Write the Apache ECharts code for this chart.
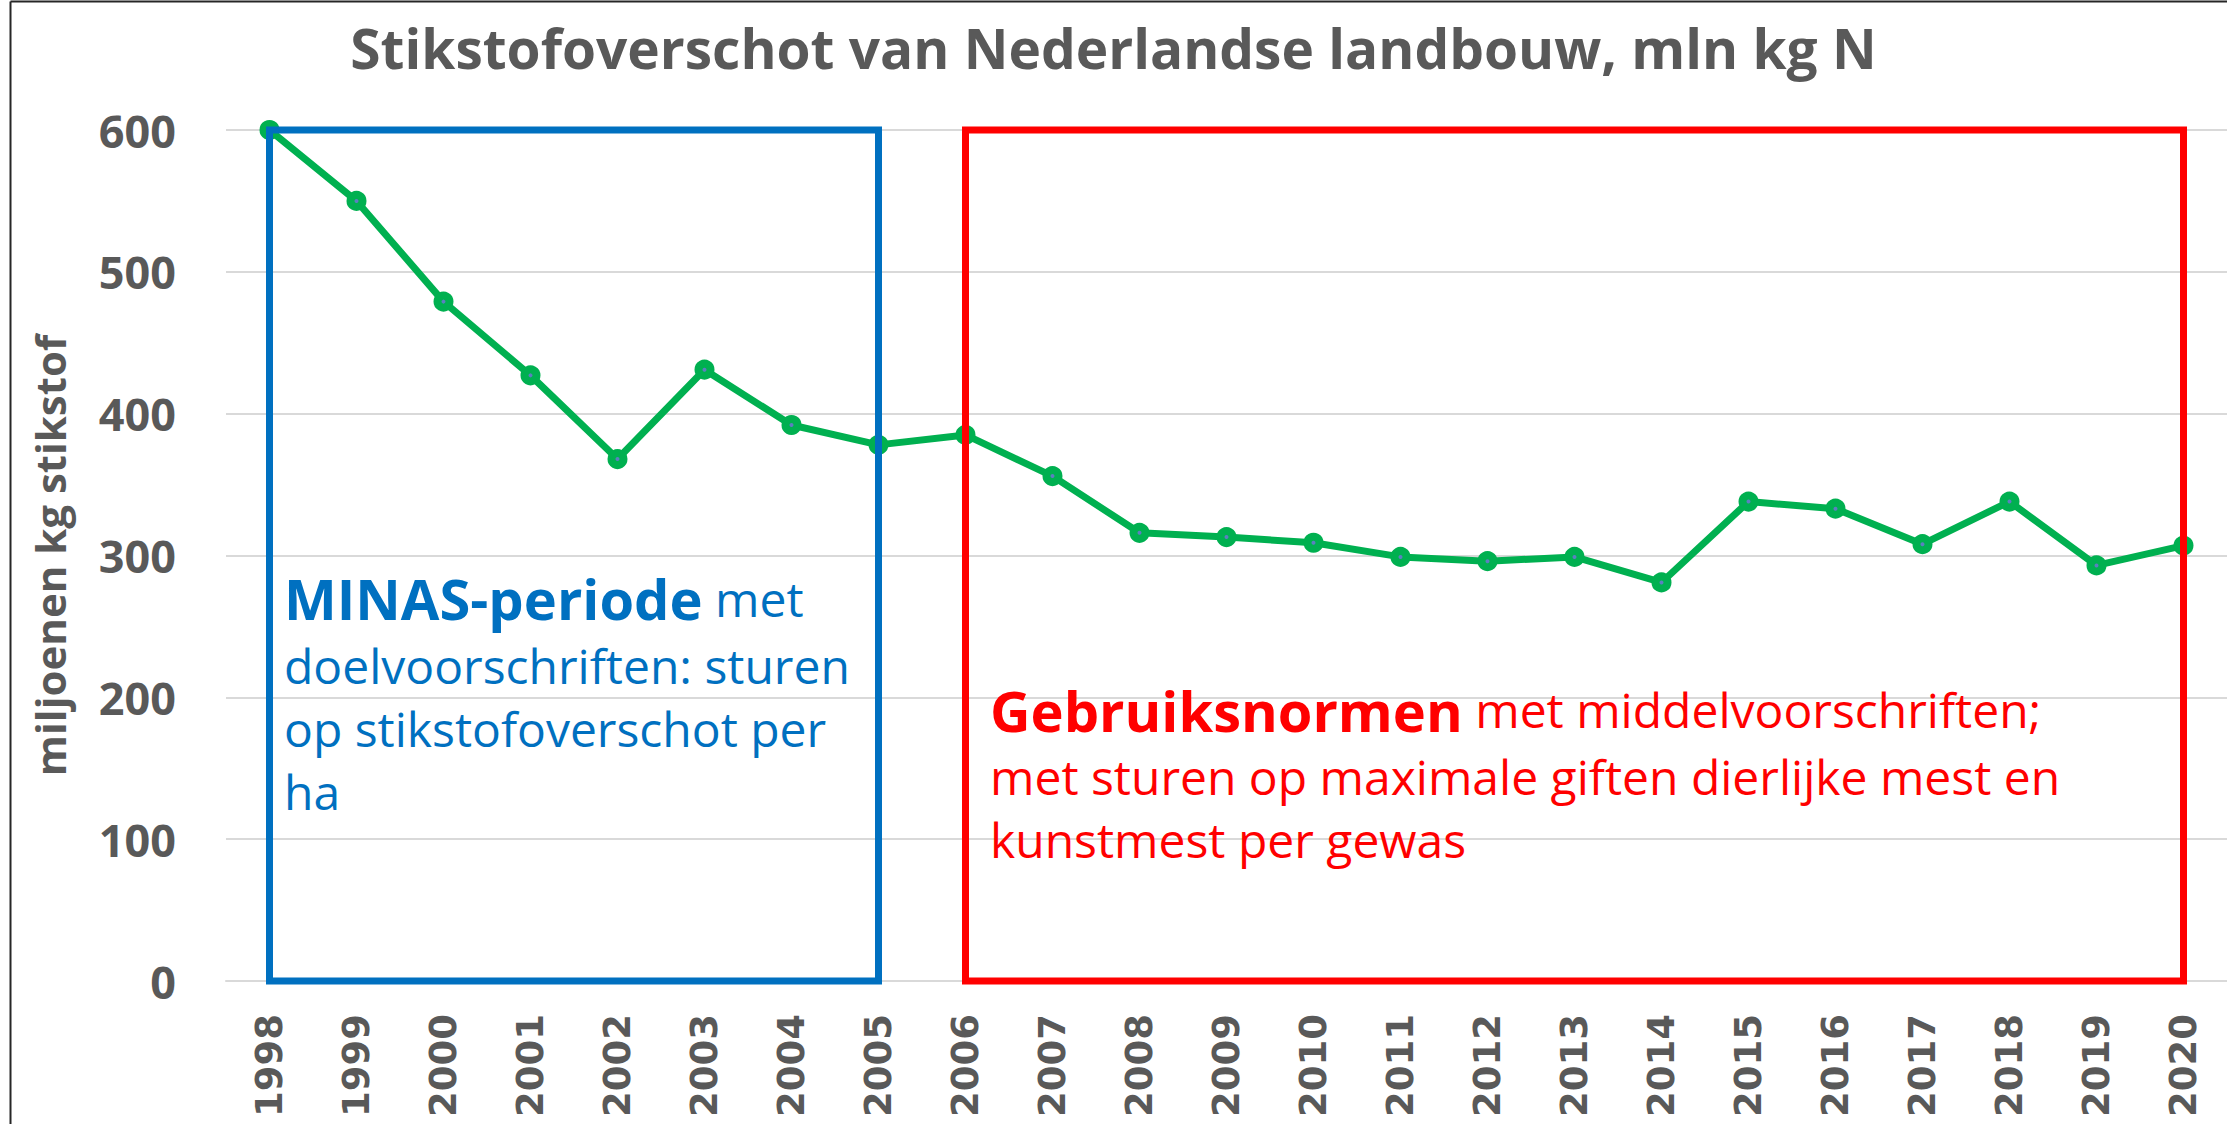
<!DOCTYPE html>
<html>
<head>
<meta charset="utf-8">
<script src="https://cdn.jsdelivr.net/npm/echarts@6/dist/echarts.min.js"></script>
<style>
html,body{margin:0;padding:0;background:#ffffff;}
#chart{width:2227px;height:1124px;}
</style>
</head>
<body>
<div id="chart"></div>
<script>
// ---- data ----
const years = ['1998','1999','2000','2001','2002','2003','2004','2005','2006','2007','2008',
               '2009','2010','2011','2012','2013','2014','2015','2016','2017','2018','2019','2020'];
const surplus = [600, 550, 479, 427, 368, 431, 392, 378, 385, 356, 316,
                 313, 309, 299, 296, 299, 281, 338, 333, 308, 338, 293, 307];
const yTickValues = [0, 100, 200, 300, 400, 500, 600];
const chartTitle = 'Stikstofoverschot van Nederlandse landbouw, mln kg N';
const yAxisTitle = 'miljoenen kg stikstof';
const minasPeriod = ['1998', '2005'];
const normsPeriod = ['2006', '2020'];
const minasBold = 'MINAS-periode';
const minasLines = ['met', 'doelvoorschriften: sturen', 'op stikstofoverschot per', 'ha'];
const normsBold = 'Gebruiksnormen';
const normsLines = ['met middelvoorschriften;', 'met sturen op maximale giften dierlijke mest en', 'kunstmest per gewas'];

// ---- chart ----
const chart = echarts.init(document.getElementById('chart'), null, {renderer: 'svg'});
const yMin = yTickValues[0], yMax = yTickValues[yTickValues.length - 1];
const yStep = yTickValues[1] - yTickValues[0];
const grey = '#595959';
const calibriLike = '"Open Sans", "Noto Sans", sans-serif';

function richBlock(bold, lines, colorHex, firstLineHeight) {
  return {
    text: '{b|' + bold + '}{r1| ' + lines[0] + '}\n' + lines.slice(1).map(l => '{r|' + l + '}').join('\n'),
    rich: {
      b: {fontFamily: calibriLike, fontWeight: 'bold', fontSize: 56, fill: colorHex, color: colorHex, lineHeight: firstLineHeight},
      r1: {fontFamily: calibriLike, fontWeight: 'normal', fontSize: 48, fill: colorHex, color: colorHex, lineHeight: firstLineHeight},
      r: {fontFamily: calibriLike, fontWeight: 'normal', fontSize: 48, fill: colorHex, color: colorHex, lineHeight: 63}
    },
    fill: colorHex,
    verticalAlign: 'top'
  };
}

const option = {
  backgroundColor: '#ffffff',
  animation: false,
  title: {
    text: chartTitle,
    left: 'center',
    top: 20,
    padding: [0, 0, 0, 15],
    textStyle: {fontFamily: calibriLike, fontWeight: 'bold', fontSize: 55, color: grey}
  },
  grid: {left: 226, top: 130, width: 2008, height: 851, containLabel: false},
  xAxis: {
    type: 'category',
    data: years,
    boundaryGap: true,
    axisLine: {show: true, lineStyle: {color: '#d9d9d9', width: 2}},
    axisTick: {show: false},
    axisLabel: {
      rotate: 90, margin: 33, interval: 0,
      fontFamily: '"DejaVu Sans", Verdana, sans-serif', fontWeight: 'bold', fontSize: 37, color: grey
    },
    splitLine: {show: false}
  },
  yAxis: {
    type: 'value',
    min: yMin, max: yMax, interval: yStep,
    name: yAxisTitle,
    nameLocation: 'middle',
    nameRotate: 90,
    nameGap: 156,
    nameTextStyle: {fontFamily: calibriLike, fontWeight: 'bold', fontSize: 42, color: grey},
    axisLine: {show: false},
    axisTick: {show: false},
    axisLabel: {margin: 50, fontFamily: calibriLike, fontWeight: 'bold', fontSize: 45, color: grey},
    splitLine: {show: true, lineStyle: {color: '#d9d9d9', width: 2}}
  },
  series: [
    {
      type: 'line',
      data: surplus,
      z: 2,
      lineStyle: {color: '#00B050', width: 7},
      symbol: 'circle',
      symbolSize: 12,
      itemStyle: {color: '#5b7fc0', borderColor: '#00B050', borderWidth: 8},
      emphasis: {disabled: true}
    },
    {
      type: 'line',
      data: [],
      z: 10,
      silent: true,
      markArea: {
        silent: true,
        z: 10,
        label: {show: false},
        itemStyle: {color: 'rgba(0,0,0,0)', borderWidth: 7},
        emphasis: {disabled: true},
        data: [
          [{xAxis: minasPeriod[0], yAxis: yMax, itemStyle: {borderColor: '#0070C0', color: 'rgba(0,0,0,0)', borderWidth: 7}},
           {xAxis: minasPeriod[1], yAxis: yMin}],
          [{xAxis: normsPeriod[0], yAxis: yMax, itemStyle: {borderColor: '#FF0000', color: 'rgba(0,0,0,0)', borderWidth: 7}},
           {xAxis: normsPeriod[1], yAxis: yMin}]
        ]
      }
    }
  ],
  graphic: [
    {type: 'line', silent: true, shape: {x1: 10.5, y1: 1.5, x2: 2227, y2: 1.5}, style: {stroke: '#262626', lineWidth: 2}},
    {type: 'line', silent: true, shape: {x1: 10.5, y1: 1.5, x2: 10.5, y2: 1124}, style: {stroke: '#262626', lineWidth: 2}},
    {type: 'text', silent: true, x: 284, y: 562, z: 20, style: richBlock(minasBold, minasLines, '#0070C0', 72)},
    {type: 'text', silent: true, x: 990, y: 674, z: 20, style: richBlock(normsBold, normsLines, '#FF0000', 71)}
  ]
};
chart.setOption(option);
</script>
</body>
</html>
